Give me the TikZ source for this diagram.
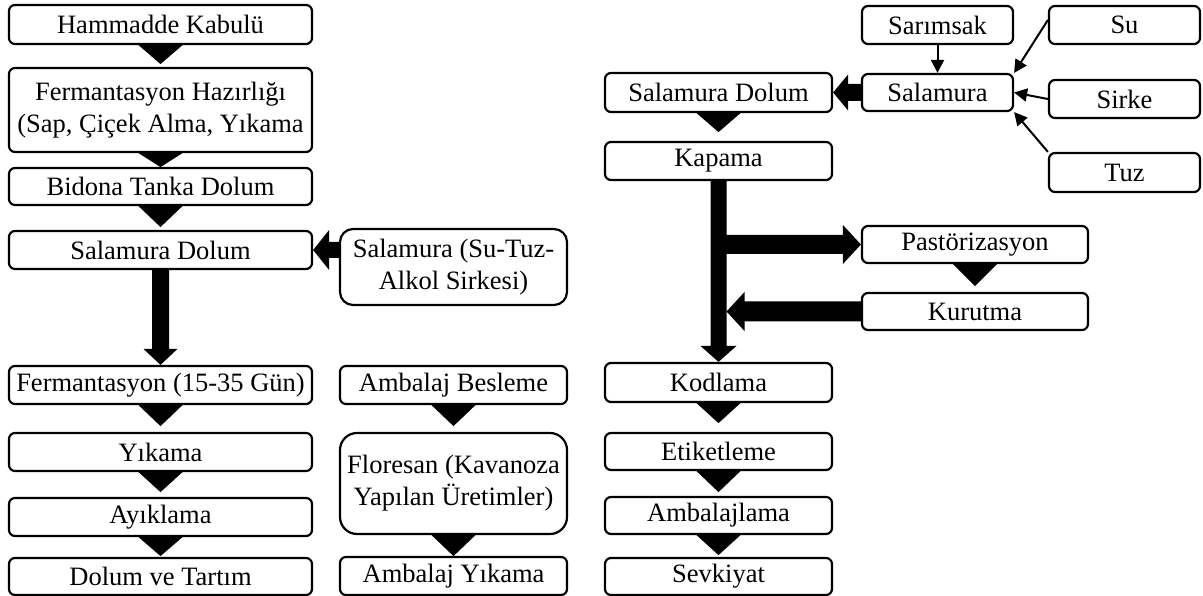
\documentclass[tikz,border=0pt]{standalone}
\usepackage{fontspec}
\setmainfont{Liberation Serif}
\usetikzlibrary{calc,arrows.meta}
\newcommand\boxfont{\fontsize{26.5}{32}\selectfont}
% black triangle connector: from node #1 towards node #2, height #3
\newcommand\tri[3]{\fill[tricon] ($(#1.south)+(-22,0)$) -- ($(#1.south)+(22,0)$) -- ($(#1.south)!#3!(#2.north)$) -- cycle;}
% fat vertical arrow: start #1, tip #2, half shaft #3, half head #4, head length #5
\newcommand\fatv[5]{\fill[fatcon] ($(#1)+(-#3,0)$) -- ($(#2)+(-#3,-#5)$) -- ($(#2)+(-#4,-#5)$) -- (#2) -- ($(#2)+(#4,-#5)$) -- ($(#2)+(#3,-#5)$) -- ($(#1)+(#3,0)$) -- cycle;}
% fat horizontal arrow: start #1, tip #2, half shaft #3, half head #4, signed head length #5
\newcommand\fath[5]{\fill[fatcon] ($(#1)+(0,-#3)$) -- ($(#2)+(#5,-#3)$) -- ($(#2)+(#5,-#4)$) -- (#2) -- ($(#2)+(#5,#4)$) -- ($(#2)+(#5,#3)$) -- ($(#1)+(0,#3)$) -- cycle;}
\tikzset{
  box/.style={draw, line width=2.2pt, rounded corners=6pt, inner sep=0pt, align=center, font=\boxfont, fill=white},
  lcol/.style={box, minimum width=303pt},
  mcol/.style={box, minimum width=227pt},
  rcol/.style={box, minimum width=227pt},
  scol/.style={box, minimum width=151pt},
  tricon/.style={fill=black},
  fatcon/.style={fill=black},
  thinarr/.style={line width=2pt, -{Triangle[length=13pt,width=13pt]}},
}
\begin{document}
\begin{tikzpicture}[x=1pt,y=-1pt]
\fill[white] (0,0) rectangle (1203,596);
\useasboundingbox (0,0) rectangle (1203,596);
% left column
\node[lcol, minimum height=39pt] (ham) at (160.5,24.5) {Hammadde Kabulü};
\node[lcol, minimum height=84pt] (fer) at (160.5,110) {Fermantasyon Hazırlığı\\(Sap, Çiçek Alma, Yıkama};
\node[lcol, minimum height=37pt] (bid) at (160.5,186.5) {Bidona Tanka Dolum};
\node[lcol, minimum height=38pt] (sd) at (160.5,250) {Salamura Dolum};
\node[lcol, minimum height=38pt] (fm) at (160.5,385) {Fermantasyon (15-35 Gün)};
\node[lcol, minimum height=38pt] (yik) at (160.5,452) {Yıkama};
\node[lcol, minimum height=38pt] (ayk) at (160.5,517) {Ayıklama};
\node[lcol, minimum height=37pt] (dol) at (160.5,576.5) {Dolum ve Tartım};
% middle column
\node[mcol, rounded corners=13pt, minimum height=76pt] (st) at (453.5,267) {Salamura (Su-Tuz-\\Alkol Sirkesi)};
\node[mcol, minimum height=38pt] (ab) at (453.5,385) {Ambalaj Besleme};
\node[mcol, rounded corners=17pt, minimum height=101pt] (flo) at (453.5,483.5) {Floresan (Kavanoza\\Yapılan Üretimler)};
\node[mcol, minimum height=38pt] (ay) at (453.5,576) {Ambalaj Yıkama};
% right column
\node[rcol, minimum height=39pt] (sdr) at (718.5,92.5) {Salamura Dolum};
\node[rcol, minimum height=38pt] (kap) at (718.5,161) {Kapama};
\node[rcol, minimum height=39pt] (kod) at (718.5,382.5) {Kodlama};
\node[rcol, minimum height=37pt] (eti) at (718.5,451.5) {Etiketleme};
\node[rcol, minimum height=37pt] (amb) at (718.5,515.5) {Ambalajlama};
\node[rcol, minimum height=37pt] (sev) at (718.5,576.5) {Sevkiyat};
% brine group
\node[scol, minimum height=37pt] (sal) at (937.5,92.5) {Salamura};
\node[scol, minimum height=38pt] (sar) at (937.5,25) {Sarımsak};
\node[scol, minimum height=38pt] (su) at (1124.5,25) {Su};
\node[scol, minimum height=38pt] (sir) at (1124.5,99) {Sirke};
\node[scol, minimum height=39pt] (tuz) at (1124.5,172.5) {Tuz};
% pasteurisation
\node[box, minimum width=226pt, minimum height=37pt] (pas) at (975,244.5) {Pastörizasyon};
\node[box, minimum width=226pt, minimum height=37pt] (kur) at (975,311.5) {Kurutma};
% triangle connectors
\tri{ham}{fer}{19pt}
\tri{fer}{bid}{14pt}
\tri{bid}{sd}{21pt}
\tri{fm}{yik}{21pt}
\tri{yik}{ayk}{20pt}
\tri{ayk}{dol}{19pt}
\tri{ab}{flo}{21pt}
\tri{flo}{ay}{21pt}
\tri{sdr}{kap}{19pt}
\tri{pas}{kur}{22pt}
\tri{kod}{eti}{20pt}
\tri{eti}{amb}{21pt}
\tri{amb}{sev}{20pt}
% fat arrows
\coordinate (t1) at (sd.south |- fm.north);
\fatv{sd.south}{t1}{8.5}{17}{16}
\coordinate (s2) at (st.west |- sd.east);
\fath{s2}{sd.east}{8}{20}{16}
\fath{sal.west}{sdr.east}{8.5}{18}{15}
\coordinate (t3) at (kap.south |- kod.north);
\fatv{kap.south}{t3}{8}{18}{16}
\coordinate (s4) at (kap.south |- pas.west);
\fath{s4}{pas.west}{9.5}{19.5}{-18}
\coordinate (t5) at ($(kap.south |- kur.west)+(8,0)$);
\fath{kur.west}{t5}{10}{19.5}{18}
% thin arrows
\draw[thinarr] (sar.south) -- (sal.north);
\draw[thinarr] ([yshift=5pt]su.west) -- (sal.north east);
\draw[thinarr] (sir.west) -- (sal.east);
\draw[thinarr] (tuz.north west) -- (sal.south east);
\end{tikzpicture}
\end{document}
